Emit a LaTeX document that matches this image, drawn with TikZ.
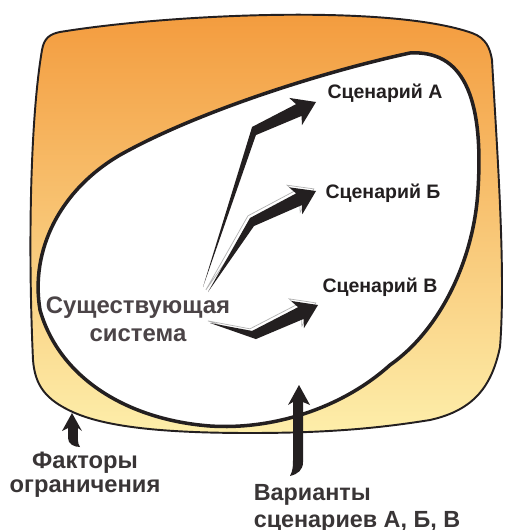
\documentclass[tikz,border=0pt]{standalone}
\usepackage{fontspec}
\setmainfont{Liberation Sans}
\usepackage{xcolor}
\usepackage{tikz}
\usetikzlibrary{calc}
\definecolor{inkdark}{RGB}{35,31,32}
\definecolor{sysgray}{RGB}{75,68,71}
\definecolor{orangetop}{RGB}{243,154,60}
\definecolor{orangemid}{RGB}{248,194,112}
\definecolor{paleyellow}{RGB}{253,238,170}

% tapered arrow: [options]{tail}{bend}{tip}
\newcommand{\scenarrow}[4][]{%
  \path ($(#4)!0.38cm!(#3)$) coordinate (hbase)
        ($(#4)!0.45cm!(#3)$) coordinate (hbarb);
  \fill[inkdark,#1] (#2) -- ($(#3)!0.09cm!90:(#4)$) -- ($(hbase)!0.13cm!90:(#4)$)
    -- ($(hbarb)!0.30cm!90:(#4)$) -- (#4) -- ($(hbarb)!0.30cm!-90:(#4)$)
    -- ($(hbase)!0.13cm!-90:(#4)$) -- ($(#3)!0.09cm!-90:(#4)$) -- cycle;
}

\begin{document}
\begin{tikzpicture}[x=0.02cm,y=-0.02cm,
          scenlabel/.style={inner sep=0pt,text=inkdark,
                            font=\fontsize{11.1}{13}\selectfont\bfseries},
          syslabel/.style={inner sep=0pt,text=sysgray,align=center,
                           font=\fontsize{13.6}{16}\selectfont\bfseries},
          botlabel/.style={inner sep=0pt,text=inkdark!90},
          ghost/.style={preaction={draw=black!30,fill=white,line width=0.4pt,
                        transform canvas={shift={(-1.2pt,1.2pt)}}}}]
  \useasboundingbox (0,0) rectangle (507,530);

  % constraints field
  \shade[top color=orangetop,middle color=orangemid,bottom color=paleyellow,
         draw=inkdark,line width=1.1pt]
    (60,32) .. controls (170,14) and (390,4) .. (472,33)
    .. controls (486,38) and (490,48) .. (492,60)
    .. controls (497,150) and (506,270) .. (500,347)
    .. controls (492,385) and (475,410) .. (430,420)
    .. controls (380,428) and (330,433) .. (250,433)
    .. controls (170,433) and (110,428) .. (75,413)
    .. controls (45,400) and (35,385) .. (33,360)
    .. controls (28,250) and (30,120) .. (42,50)
    .. controls (44,38) and (50,34) .. (60,32) -- cycle;

  % space of scenarios
  \filldraw[fill=white,draw=inkdark,line width=2pt]
    (410,53) .. controls (462,50) and (484,95) .. (478,190)
    .. controls (474,260) and (440,330) .. (390,365)
    .. controls (340,410) and (270,430) .. (210,426)
    .. controls (130,420) and (60,380) .. (40,310)
    .. controls (30,250) and (60,190) .. (120,155)
    .. controls (200,110) and (330,70) .. (410,53) -- cycle;

  \node[syslabel] (sys) at (138,319) {Существующая\\система};
  \node[scenlabel] (scA) at (385,93) {Сценарий А};
  \node[scenlabel] (scB) at (383,193) {Сценарий Б};
  \node[scenlabel] (scV) at (380,287) {Сценарий В};

  \coordinate (tA) at (203,287);
  \coordinate (tB) at (208,292);
  \coordinate (tV) at (210,323);
  \coordinate (bA) at (254,131);
  \coordinate (bB) at (252,222);
  \coordinate (bV) at (254,335);
  \coordinate (pA) at (316,102);
  \coordinate (pB) at (316,191);
  \coordinate (pV) at (318,305);

  \scenarrow{tA}{bA}{pA}
  \scenarrow[ghost]{tB}{bB}{pB}
  \scenarrow[ghost]{tV}{bV}{pV}

  \node[botlabel,align=center,font=\fontsize{13.5}{13.7}\selectfont\bfseries]
    (fact) at (85,475) {Факторы\\ограничения};
  \node[botlabel,align=left,font=\fontsize{13.3}{15.4}\selectfont\bfseries]
    (var) at (357,508) {Варианты\\сценариев А, Б, В};

  \coordinate (limtip) at (72,413);
  \coordinate (vartip) at (299,385);
  \fill[inkdark] (limtip) -- ($(limtip)+(-10,18)$) -- ($(limtip)+(-4,15)$)
    -- ($(limtip)+(-4,25)$) .. controls ($(limtip)+(-4,31)$) and ($(limtip)+(2,34)$)
    .. ($(limtip)+(8,34)$) .. controls ($(limtip)+(5,30)$) and ($(limtip)+(6,25)$)
    .. ($(limtip)+(6,15)$) -- ($(limtip)+(10,18)$) -- cycle;
  \fill[inkdark] (vartip) -- ($(vartip)+(11,20)$) -- ($(vartip)+(4,17)$)
    -- ($(vartip)+(4,77)$) .. controls ($(vartip)+(4,85)$) and ($(vartip)+(-1,89)$)
    .. ($(vartip)+(-9,91)$) .. controls ($(vartip)+(-6,85)$) and ($(vartip)+(-6,81)$)
    .. ($(vartip)+(-6,75)$) -- ($(vartip)+(-6,17)$) -- ($(vartip)+(-11,20)$) -- cycle;
\end{tikzpicture}
\end{document}
